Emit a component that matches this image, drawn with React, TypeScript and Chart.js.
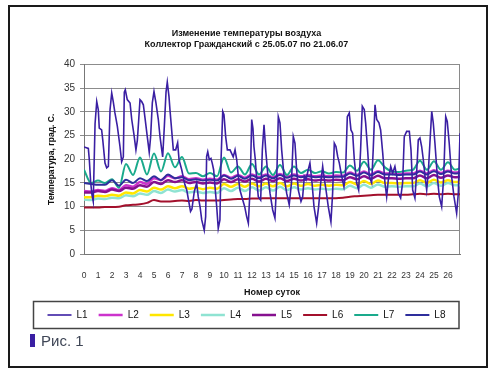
import React, { useEffect, useRef } from "react";
import { Chart, registerables } from "chart.js";

Chart.register(...registerables);

const titleLines = ["Изменение температуры воздуха", "Коллектор Гражданский с 25.05.07 по 21.06.07"];
const xTitle = "Номер суток";
const yTitle = "Температура, град. С.";
const seriesNames = ["L1", "L2", "L3", "L4", "L5", "L6", "L7", "L8"];
const xTickValues = [0, 1, 2, 3, 4, 5, 6, 7, 8, 9, 10, 11, 12, 13, 14, 15, 16, 17, 18, 19, 20, 21, 22, 23, 24, 25, 26];

// L1: sampled vertices (day, temperature)
const l1Days = [
  0, 0.31, 0.38, 0.48, 0.57, 0.66, 0.79, 0.91, 1.02, 1.09, 1.26, 1.34, 1.5, 1.62, 1.74, 1.86, 1.98, 2.09, 2.21, 2.38,
  2.57, 2.69, 2.81, 2.88, 2.95, 3.09, 3.29, 3.41, 3.57, 3.71, 3.81, 3.91, 4.0, 4.12, 4.24, 4.36, 4.52, 4.66, 4.76, 4.88,
  5.0, 5.14, 5.31, 5.43, 5.62, 5.74, 5.86, 5.95, 6.07, 6.14, 6.38, 6.55, 6.69, 6.79, 6.98, 7.21, 7.34, 7.61, 7.71, 7.88,
  8.05, 8.16, 8.29, 8.41, 8.59, 8.69, 8.76, 8.84, 8.95, 9.07, 9.16, 9.26, 9.36, 9.48, 9.59, 9.71, 9.79, 9.91, 10.0, 10.12,
  10.24, 10.43, 10.66, 10.79, 10.91, 11.02, 11.14, 11.34, 11.48, 11.62, 11.74, 11.86, 11.98, 12.07, 12.14, 12.24, 12.34, 12.45, 12.62, 12.74,
  12.86, 12.98, 13.12, 13.29, 13.48, 13.64, 13.76, 13.88, 14.0, 14.12, 14.29, 14.48, 14.66, 14.82, 14.95, 15.07, 15.19, 15.31, 15.5, 15.62,
  15.74, 15.86, 16.02, 16.14, 16.29, 16.43, 16.62, 16.76, 16.91, 17.05, 17.14, 17.29, 17.45, 17.64, 17.76, 17.88, 18.0, 18.12, 18.24, 18.41,
  18.57, 18.68, 18.81, 18.95, 19.07, 19.19, 19.31, 19.48, 19.62, 19.76, 19.88, 20.02, 20.12, 20.26, 20.38, 20.55, 20.66, 20.79, 20.91, 21.07,
  21.19, 21.34, 21.5, 21.62, 21.74, 21.91, 22.05, 22.21, 22.34, 22.45, 22.62, 22.76, 22.88, 23.05, 23.24, 23.36, 23.48, 23.64, 23.76, 23.88,
  24.0, 24.12, 24.24, 24.36, 24.48, 24.59, 24.71, 24.84, 24.95, 25.07, 25.24, 25.38, 25.55, 25.69, 25.84, 25.95, 26.09, 26.26, 26.43, 26.62,
  26.74, 26.86,
];
const l1Temps = [
  22.6, 22.3, 19.9, 15, 12.5, 11.1, 27.5, 32.2, 30.5, 26.6, 26.2, 24.1, 19.2, 18.2, 18.5, 30.5, 34, 32.2, 29.8, 27,
  22.7, 19.5, 20.5, 34.2, 34.7, 32.6, 31.9, 28.4, 25.2, 22, 24, 28.4, 32.6, 32.2, 31.5, 28.7, 24.8, 21.5, 24.8, 31.9,
  34.3, 31.9, 28.4, 24.8, 20.5, 27, 34.2, 36.3, 33.3, 30.5, 22, 22, 23.5, 19.9, 17.8, 14.6, 13.5, 9, 9.5, 13.2,
  15, 12.1, 10, 7.2, 5, 7.9, 20.6, 21.6, 19.9, 20.2, 19.2, 17.8, 14.2, 10, 5.4, 7.2, 19.9, 30.1, 29.4, 24.8,
  22, 22, 20.5, 22, 19.9, 16.5, 13.5, 11.4, 10, 7.9, 6.5, 13.5, 28.4, 26.5, 22.7, 19.9, 15.7, 12.1, 11.4, 22,
  27.3, 22, 17.1, 12.8, 9.3, 7.6, 15, 29, 27.7, 22, 16.4, 12.8, 10.4, 15, 24.8, 23.4, 17.8, 13.5, 11.1, 12.1,
  16.4, 15.7, 17.8, 19.2, 15, 10, 6.5, 10, 15, 18.5, 16.4, 13.5, 10, 6.8, 12.8, 23.4, 22.7, 20.6, 19.2, 16.4,
  14.2, 17, 29, 29.8, 26.2, 25.5, 19.9, 15, 13.5, 22, 31.2, 30.5, 27.7, 22, 16.4, 15, 22, 31.5, 28.4, 27.7,
  26.2, 21.3, 15, 12.1, 15.7, 18.5, 17.1, 18.5, 16.4, 12.8, 11.8, 15, 24.8, 25.9, 25.9, 22, 13.5, 11.8, 17, 24.1,
  24.5, 22.7, 19.9, 16.4, 13.5, 17, 23.4, 30.1, 27.7, 23.4, 16.4, 12.1, 10, 16, 29, 28, 23.4, 16.4, 12.1, 8.6,
  12.8, 25.5,
];

// Other series: half-day readings
const gridDays = [
  0, 0.5, 1, 1.5, 2, 2.5, 3, 3.5, 4, 4.5, 5, 5.5, 6, 6.5, 7, 7.5, 8, 8.5, 9, 9.5,
  10, 10.5, 11, 11.5, 12, 12.5, 13, 13.5, 14, 14.5, 15, 15.5, 16, 16.5, 17, 17.5, 18, 18.5, 19, 19.5,
  20, 20.5, 21, 21.5, 22, 22.5, 23, 23.5, 24, 24.5, 25, 25.5, 26, 26.5, 26.86,
];
const l2Temps = [
  13.3, 13.2, 13.5, 13.3, 13.9, 13.5, 14.5, 14.2, 15.2, 14.8, 16.0, 15.6, 16.5, 16.0, 16.4, 15.8, 16.0, 15.7, 15.9, 15.7,
  16.7, 16.1, 16.7, 16.1, 16.8, 16.2, 16.8, 16.2, 16.9, 16.3, 16.8, 16.4, 16.7, 16.4, 16.6, 16.4, 16.6, 16.5, 17.2, 16.7,
  17.4, 16.8, 17.5, 17.0, 17.0, 16.9, 17.0, 17.0, 17.6, 17.0, 17.7, 17.1, 17.6, 17.2, 17.3,
];
const l3Temps = [
  12.0, 12.0, 12.3, 12.2, 12.5, 12.3, 13.0, 12.8, 13.5, 13.2, 14.0, 13.6, 14.3, 13.9, 14.3, 13.8, 14.0, 13.7, 14.0, 13.8,
  14.8, 14.2, 14.8, 14.2, 14.9, 14.3, 14.9, 14.3, 15.0, 14.3, 14.9, 14.4, 14.8, 14.4, 14.6, 14.4, 14.6, 14.5, 15.2, 14.7,
  15.4, 14.8, 15.5, 15.0, 15.0, 14.9, 15.0, 15.0, 15.6, 15.0, 15.7, 15.1, 15.6, 15.2, 15.2,
];
const l4Temps = [
  11.5, 11.4, 11.7, 11.6, 11.9, 11.8, 12.4, 12.2, 12.8, 12.5, 13.3, 12.9, 13.6, 13.2, 13.5, 13.0, 13.2, 12.9, 13.1, 12.9,
  13.9, 13.3, 14.0, 13.3, 14.1, 13.4, 14.1, 13.4, 14.2, 13.5, 14.1, 13.6, 13.9, 13.6, 13.8, 13.6, 13.8, 13.7, 14.4, 13.9,
  14.6, 14.0, 14.7, 14.2, 14.3, 14.2, 14.3, 14.3, 14.9, 14.3, 15.0, 14.4, 15.0, 14.5, 14.5,
];
const l5Temps = [
  13.0, 13.0, 13.3, 13.1, 13.6, 13.3, 14.0, 13.8, 14.5, 14.2, 15.2, 14.8, 15.6, 15.2, 15.6, 15.0, 15.2, 14.9, 15.1, 14.9,
  15.8, 15.2, 15.8, 15.3, 15.9, 15.3, 15.9, 15.4, 16.0, 15.4, 15.9, 15.5, 15.8, 15.5, 15.7, 15.5, 15.7, 15.6, 16.2, 15.8,
  16.4, 15.9, 16.5, 16.0, 16.0, 15.9, 16.0, 16.0, 16.6, 16.0, 16.7, 16.1, 16.6, 16.2, 16.3,
];
const l6Temps = [
  9.8, 9.8, 9.8, 9.9, 9.9, 10.0, 10.3, 10.4, 10.5, 10.8, 11.4, 11.1, 11.1, 11.2, 11.3, 11.2, 11.4, 11.3, 11.3, 11.3,
  11.4, 11.5, 11.6, 11.6, 11.7, 11.7, 11.8, 11.8, 11.8, 11.8, 11.8, 11.8, 11.8, 11.8, 11.8, 11.8, 11.8, 11.9, 12.1, 12.2,
  12.3, 12.4, 12.5, 12.5, 12.5, 12.5, 12.5, 12.6, 12.7, 12.6, 12.7, 12.6, 12.7, 12.6, 12.6,
];
const l7Temps = [
  17.8, 15.0, 15.5, 15.0, 15.8, 14.0, 19.0, 16.7, 20.4, 16.8, 21.2, 17.4, 21.3, 18.3, 20.5, 17.0, 17.1, 16.4, 17.1, 16.4,
  20.4, 17.2, 18.5, 16.8, 19.0, 16.8, 18.5, 16.7, 18.8, 16.7, 18.5, 17.1, 17.8, 17.1, 17.5, 17.0, 17.3, 17.2, 18.7, 17.6,
  19.5, 17.8, 19.8, 18.3, 17.4, 17.3, 17.6, 17.8, 19.7, 17.8, 19.6, 17.8, 19.4, 17.8, 18.1,
];
const l8Temps = [
  15.0, 14.8, 14.6, 14.6, 15.6, 14.4, 15.7, 15.0, 16.0, 15.4, 16.4, 15.6, 16.8, 16.0, 16.2, 15.6, 15.8, 15.5, 15.7, 15.5,
  16.6, 15.9, 16.5, 15.9, 16.6, 16.0, 16.6, 16.0, 16.7, 16.1, 16.6, 16.2, 16.4, 16.2, 16.3, 16.2, 16.3, 16.3, 17.0, 16.5,
  17.2, 16.6, 17.3, 16.8, 16.8, 16.7, 16.8, 16.8, 17.4, 16.8, 17.5, 16.9, 17.4, 17.0, 17.1,
];

const yMin = 0;
const yMax = 40;
const yStep = 5;
const xMin = 0;
const xMax = 26.86;

const colors = ["#3a1fa3", "#cc33cc", "#ffe600", "#8fe3d2", "#86108f", "#a3102c", "#1aaa8c", "#2e2e9c"];

const legendBoxPlugin = {
  id: "legendBox",
  afterDraw(chart: any) {
    const lg = chart.legend;
    if (!lg || !lg.legendHitBoxes || !lg.legendHitBoxes.length) return;
    const hb = lg.legendHitBoxes[0];
    const cy = hb.top + hb.height / 2;
    const ctx = chart.ctx;
    ctx.save();
    ctx.strokeStyle = "#444";
    ctx.lineWidth = 1.5;
    ctx.strokeRect(lg.left + 0.5, cy - 13.5, lg.width - 1.5, 27);
    ctx.restore();
  },
};

const plotBorderPlugin = {
  id: "plotBorder",
  beforeDatasetsDraw(chart: any) {
    const { ctx, chartArea } = chart;
    ctx.save();
    ctx.strokeStyle = "#8a8a8a";
    ctx.lineWidth = 1;
    ctx.beginPath();
    ctx.moveTo(chartArea.right - 0.5, chartArea.top);
    ctx.lineTo(chartArea.right - 0.5, chartArea.bottom);
    ctx.stroke();
    ctx.restore();
  },
};

export default function App() {
  const ref = useRef<HTMLCanvasElement | null>(null);

  useEffect(() => {
    if (!ref.current) return;
    const band = (vals: number[]) => gridDays.map((d, i) => ({ x: d, y: vals[i] }));
    const l1 = l1Days.map((d, i) => ({ x: d, y: l1Temps[i] }));
    const seriesData = [l1, band(l2Temps), band(l3Temps), band(l4Temps), band(l5Temps), band(l6Temps), band(l7Temps), band(l8Temps)];
    const widths = [1.6, 2.5, 2.5, 2.5, 2.5, 2, 2, 2];
    const orders = [0, 6, 4, 5, 3, 7, 2, 1];

    const chart = new Chart(ref.current, {
      type: "line",
      data: {
        datasets: seriesNames.map((name, i) => ({
          label: name,
          data: seriesData[i],
          borderColor: colors[i],
          backgroundColor: colors[i],
          borderWidth: widths[i],
          pointRadius: 0,
          tension: i === 0 ? 0 : 0.4,
          cubicInterpolationMode: i === 0 ? "default" : "monotone",
          order: orders[i],
        })),
      },
      options: {
        responsive: false,
        animation: false,
        devicePixelRatio: 1,
        layout: { padding: { left: 33, right: 34, top: 27, bottom: 50 } },
        plugins: {
          title: {
            display: true,
            text: titleLines,
            color: "#111",
            font: { family: "Arial, 'Liberation Sans', sans-serif", size: 9, weight: "bold" },
            padding: { top: 1, bottom: 15 },
          },
          legend: {
            display: true,
            position: "bottom",
            labels: {
              usePointStyle: true,
              pointStyle: "line",
              pointStyleWidth: 24,
              padding: 11,
              color: "#111",
              font: { family: "Arial, 'Liberation Sans', sans-serif", size: 10 },
              sort: (a: any, b: any) => a.datasetIndex - b.datasetIndex,
            },
          },
          tooltip: { enabled: false },
        },
        scales: {
          x: {
            type: "linear",
            min: xMin,
            max: xMax,
            afterFit: (s: any) => {
              s.height = 45;
            },
            afterBuildTicks: (s: any) => {
              s.ticks = xTickValues.map((v) => ({ value: v }));
            },
            ticks: {
              autoSkip: false,
              maxRotation: 0,
              padding: 9,
              color: "#333",
              font: { family: "Arial, 'Liberation Sans', sans-serif", size: 8.5 },
              callback: (v: any) => String(v),
            },
            grid: { display: false },
            border: { display: true, color: "#777", width: 1 },
            title: {
              display: true,
              text: xTitle,
              color: "#111",
              font: { family: "Arial, 'Liberation Sans', sans-serif", size: 9, weight: "bold" },
              padding: { top: 0, bottom: 1 },
            },
          },
          y: {
            min: yMin,
            max: yMax,
            afterFit: (s: any) => {
              s.width = 51;
            },
            ticks: {
              stepSize: yStep,
              padding: 5,
              color: "#333",
              font: { family: "Arial, 'Liberation Sans', sans-serif", size: 10 },
            },
            grid: { color: "#8c8c8c", lineWidth: 1, tickLength: 4, drawTicks: true },
            border: { display: true, color: "#777", width: 1 },
            title: {
              display: true,
              text: yTitle,
              color: "#111",
              font: { family: "Arial, 'Liberation Sans', sans-serif", size: 8.5, weight: "bold" },
              padding: { top: 14, bottom: 0 },
            },
          },
        },
      },
      plugins: [legendBoxPlugin, plotBorderPlugin],
    } as any);
    return () => chart.destroy();
  }, []);

  return (
    <div style={{ position: "fixed", left: 0, top: 0, width: 494, height: 380, background: "#fff", overflow: "hidden" }}>
      <canvas ref={ref} width={494} height={380} style={{ position: "absolute", left: 0, top: 0, width: 494, height: 380 }} />
      <div
        style={{
          position: "absolute",
          left: 8,
          top: 5,
          width: 480,
          height: 363,
          border: "2px solid #1a1a1a",
          boxSizing: "border-box",
          pointerEvents: "none",
        }}
      />
      <div style={{ position: "absolute", left: 30, top: 334, width: 5, height: 13, background: "#3a1fa3" }} />
      <div
        style={{
          position: "absolute",
          left: 41,
          top: 331,
          fontFamily: "Arial, 'Liberation Sans', sans-serif",
          fontSize: 15,
          lineHeight: "20px",
          color: "#3f4656",
        }}
      >
        Рис. 1
      </div>
    </div>
  );
}
